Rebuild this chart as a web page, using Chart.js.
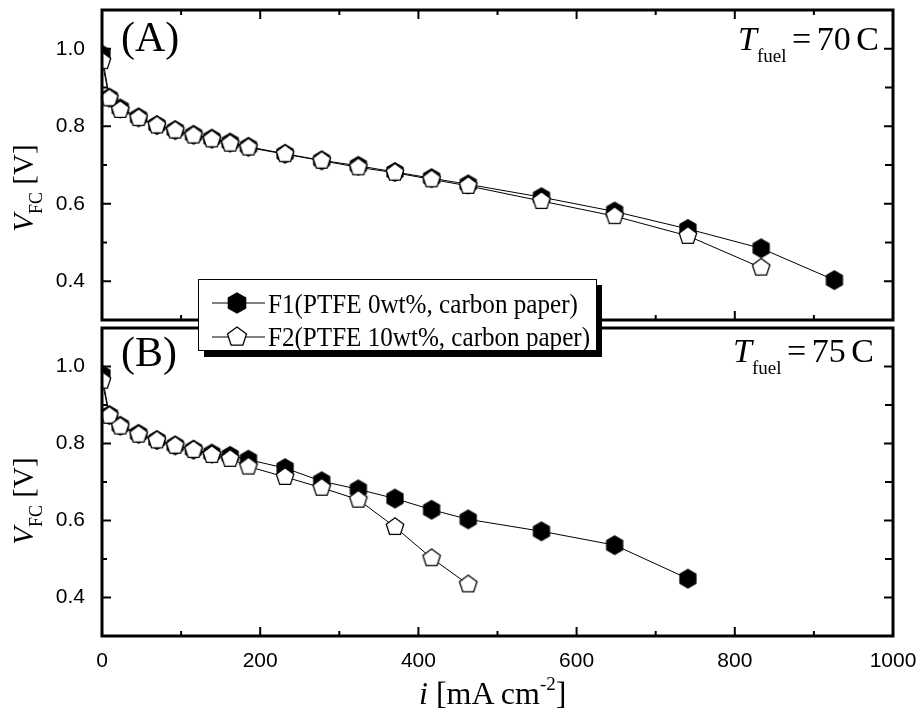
<!DOCTYPE html>
<html>
<head>
<meta charset="utf-8">
<script src="https://cdn.jsdelivr.net/npm/chart.js@4/dist/chart.umd.min.js"></script>
<style>
html,body{margin:0;padding:0;background:#fff;}
#wrap{position:relative;width:923px;height:715px;background:#fff;overflow:hidden;}
#wrap canvas{position:absolute;left:0;}
#cTop{top:0;}
#cBot{top:318px;}
#ann{position:absolute;left:0;top:0;}
</style>
</head>
<body>
<div id="wrap">
<canvas id="cTop" width="923" height="330"></canvas>
<canvas id="cBot" width="923" height="397"></canvas>
<svg id="ann" width="923" height="715" xmlns="http://www.w3.org/2000/svg" font-family="'Liberation Serif','Times New Roman',serif" fill="#000"></svg>
</div>
<script>
// ---------------- data ----------------
const currentDensity = [0, 9.26, 23.15, 46.3, 69.4, 92.6, 115.7, 138.9, 162.0, 185.2, 231.5, 277.8, 324.1, 370.4, 416.7, 463.0, 555.6, 648.1, 740.7, 833.3, 925.9];
// panel (A): T_fuel = 70 C
const f1At70 = [0.985, 0.874, 0.846, 0.823, 0.803, 0.790, 0.778, 0.768, 0.758, 0.747, 0.729, 0.712, 0.698, 0.682, 0.666, 0.650, 0.617, 0.580, 0.535, 0.485, 0.403];
const f2At70 = [0.968, 0.872, 0.842, 0.821, 0.802, 0.789, 0.776, 0.766, 0.755, 0.745, 0.728, 0.711, 0.694, 0.680, 0.663, 0.646, 0.607, 0.568, 0.517, 0.435];
// panel (B): T_fuel = 75 C
const f1At75 = [0.979, 0.874, 0.846, 0.825, 0.809, 0.795, 0.784, 0.774, 0.768, 0.758, 0.736, 0.702, 0.681, 0.657, 0.628, 0.603, 0.572, 0.536, 0.449];
const f2At75 = [0.963, 0.872, 0.844, 0.823, 0.808, 0.794, 0.783, 0.770, 0.760, 0.740, 0.713, 0.685, 0.654, 0.583, 0.502, 0.434];

const xTickLabels = [0, 200, 400, 600, 800, 1000];
const xMinorTicks = [100, 300, 500, 700, 900];
const yTickLabels = [0.4, 0.6, 0.8, 1.0];
const yMinorTicks = [0.5, 0.7, 0.9];
const seriesNames = ['F1(PTFE 0wt%, carbon paper)', 'F2(PTFE 10wt%, carbon paper)'];
const panelLabels = ['(A)', '(B)'];
const fuelTemps = ['70', '75'];

// ---------------- markers ----------------
function polyPts(cx, cy, r, n) {
  const p = [];
  for (let k = 0; k < n; k++) {
    const a = -Math.PI / 2 + k * 2 * Math.PI / n;
    p.push([cx + r * Math.cos(a), cy + r * Math.sin(a)]);
  }
  return p;
}
function markerCanvas(n, filled) {
  const c = document.createElement('canvas');
  c.width = 24; c.height = 24;
  const g = c.getContext('2d');
  const pts = polyPts(12, 12, 9.2, n);
  g.beginPath();
  pts.forEach((p, i) => i ? g.lineTo(p[0], p[1]) : g.moveTo(p[0], p[1]));
  g.closePath();
  g.fillStyle = filled ? '#000' : '#fff';
  g.fill();
  g.lineWidth = 1.3;
  g.strokeStyle = '#000';
  g.stroke();
  return c;
}
const hexImg = markerCanvas(6, true);
const pentImg = markerCanvas(5, false);

// ---------------- frame & inward ticks ----------------
const framePlugin = {
  id: 'frame',
  afterDraw(chart, args, opts) {
    const { ctx, chartArea: a, scales } = chart;
    const sx = scales.x, sy = scales.y;
    ctx.save();
    ctx.strokeStyle = '#000';
    ctx.lineWidth = 2;
    const seg = (x1, y1, x2, y2) => { ctx.beginPath(); ctx.moveTo(x1, y1); ctx.lineTo(x2, y2); ctx.stroke(); };
    const xt = (vals, len) => vals.forEach(v => {
      const px = sx.getPixelForValue(v);
      seg(px, a.bottom, px, a.bottom - len);
      if (opts.topTicks) seg(px, a.top, px, a.top + len);
    });
    xt(xTickLabels, 9); xt(xMinorTicks, 5);
    const yt = (vals, len, lenR) => vals.forEach(v => {
      const py = sy.getPixelForValue(v);
      seg(a.left, py, a.left + len, py);
      seg(a.right, py, a.right - lenR, py);
    });
    yt(yTickLabels, 9, 9); yt(yMinorTicks, 5, 8);
    ctx.lineWidth = 3;
    ctx.strokeRect(a.left, a.top, a.right - a.left, a.bottom - a.top);
    ctx.restore();
  }
};

const tickFont = { family: "'Liberation Sans', Arial, sans-serif", size: 21 };

function makeChart(canvas, f1, f2, isBottom) {
  return new Chart(canvas, {
    type: 'line',
    data: {
      datasets: [
        { label: seriesNames[1], data: f2.map((v, i) => ({ x: currentDensity[i], y: v })),
          pointStyle: pentImg, pointRadius: 9, borderColor: '#000', borderWidth: 1, backgroundColor: '#fff', order: 0, clip: 0 },
        { label: seriesNames[0], data: f1.map((v, i) => ({ x: currentDensity[i], y: v })),
          pointStyle: hexImg, pointRadius: 9, borderColor: '#000', borderWidth: 1, backgroundColor: '#000', order: 1, clip: 0 }
      ]
    },
    options: {
      responsive: false, animation: false, devicePixelRatio: 1,
      layout: { padding: { left: 0, right: 30, top: isBottom ? 4 : 7, bottom: isBottom ? 0 : 8 } },
      elements: { line: { tension: 0 } },
      plugins: { legend: { display: false }, tooltip: { enabled: false }, frame: { topTicks: !isBottom } },
      scales: {
        x: {
          type: 'linear', min: 0, max: 1000, display: isBottom,
          grid: { display: false }, border: { display: false },
          ticks: { font: tickFont, color: '#000', padding: 5, maxRotation: 0, callback: v => String(v) },
          afterBuildTicks: s => { s.ticks = xTickLabels.map(v => ({ value: v })); },
          afterFit: s => { s.height = isBottom ? 79 : 0; s.paddingLeft = 0; s.paddingRight = 0; }
        },
        y: {
          type: 'linear', min: 0.3, max: 1.1,
          grid: { display: false }, border: { display: false },
          ticks: { font: tickFont, color: '#000', padding: 9, callback: v => Number(v).toFixed(1) },
          afterBuildTicks: s => { s.ticks = yTickLabels.map(v => ({ value: v })); },
          afterFit: s => { s.width = 102; s.paddingTop = 0; s.paddingBottom = 0; }
        }
      }
    },
    plugins: [framePlugin]
  });
}

makeChart(document.getElementById('cTop'), f1At70, f2At70, false);
makeChart(document.getElementById('cBot'), f1At75, f2At75, true);

// ---------------- annotations (real SVG text) ----------------
function ptsAttr(p) { return p.map(q => q[0].toFixed(2) + ',' + q[1].toFixed(2)).join(' '); }
const svg = document.getElementById('ann');
let s = '';
// panel labels
s += `<text x="121" y="51" font-size="42">${panelLabels[0]}</text>`;
s += `<text x="121" y="366" font-size="42">${panelLabels[1]}</text>`;
// temperatures
const tPos = [[738, 50], [733, 362]];
tPos.forEach((p, i) => {
  s += `<text x="${p[0]}" y="${p[1]}" font-size="34" word-spacing="-3"><tspan font-style="italic">T</tspan><tspan font-size="19" dy="12">fuel</tspan><tspan dy="-12"> = ${fuelTemps[i]} C</tspan></text>`;
});
// y titles
[188, 501].forEach(cy => {
  s += `<text transform="translate(33,${cy}) rotate(-90)" text-anchor="middle" font-size="29"><tspan font-style="italic">V</tspan><tspan font-size="18" dy="9">FC</tspan><tspan dy="-9"> [V]</tspan></text>`;
});
// x title
s += `<text x="419" y="704" font-size="32"><tspan font-style="italic">i</tspan> [mA cm<tspan font-size="19" dy="-14">-2</tspan><tspan dy="14">]</tspan></text>`;
// legend
s += `<rect x="204" y="285" width="398" height="72" fill="#000"/>`;
s += `<rect x="198.5" y="279.5" width="398" height="71" fill="#fff" stroke="#000" stroke-width="1"/>`;
const rows = [{ y: 303, n: 6, fill: '#000', tb: 313, w: 310 }, { y: 337, n: 5, fill: '#fff', tb: 346, w: 322 }];
rows.forEach((r, i) => {
  s += `<line x1="212" y1="${r.y}" x2="265" y2="${r.y}" stroke="#000" stroke-width="1"/>`;
  s += `<polygon points="${ptsAttr(polyPts(237, r.y, 10, r.n))}" fill="${r.fill}" stroke="#000" stroke-width="1.3"/>`;
  s += `<text x="268" y="${r.tb}" font-size="28" textLength="${r.w}" lengthAdjust="spacingAndGlyphs">${seriesNames[i]}</text>`;
});
svg.innerHTML = s;
</script>
</body>
</html>
